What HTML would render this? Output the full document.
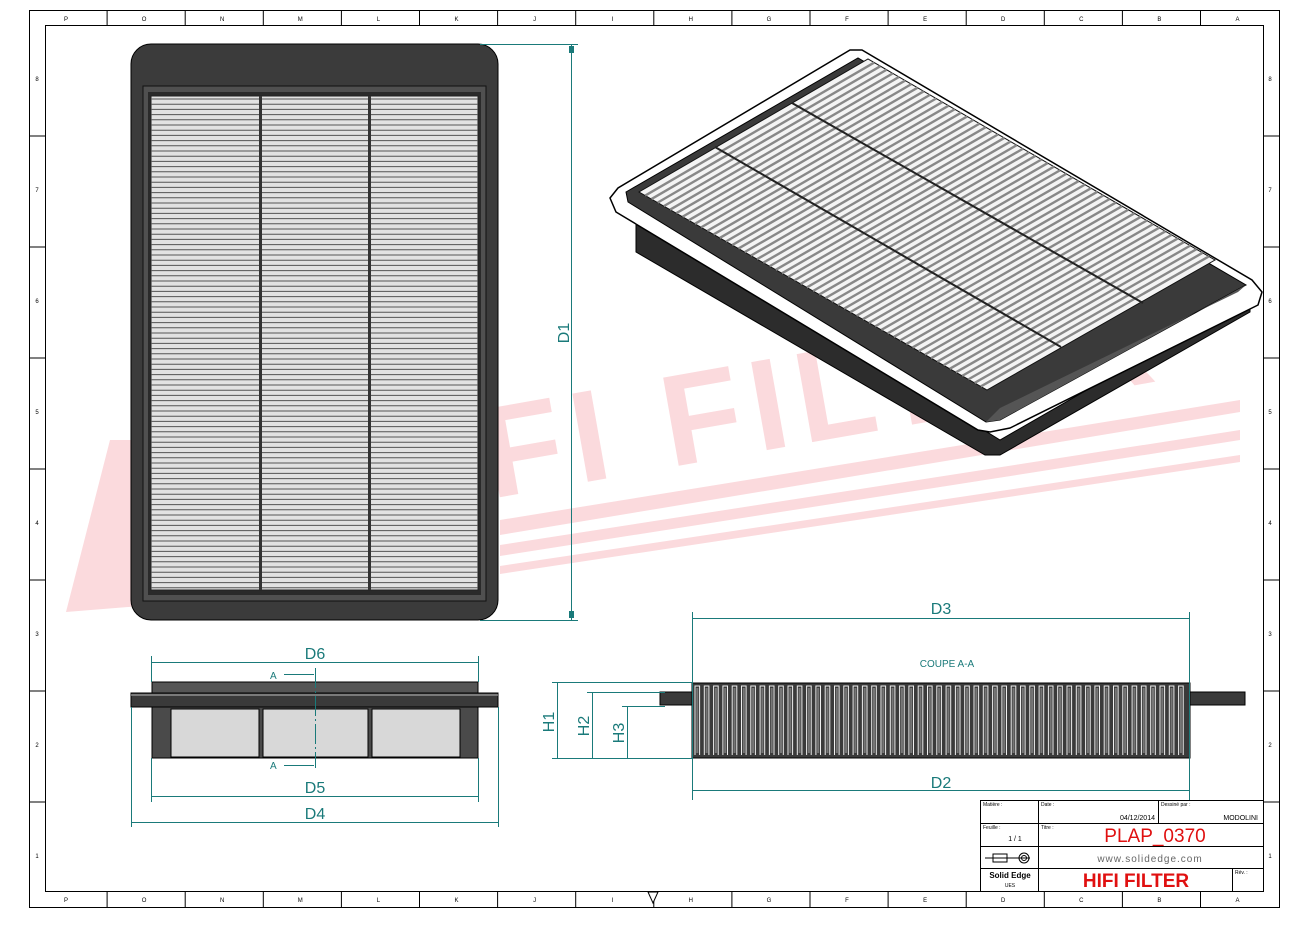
<!DOCTYPE html>
<html><head><meta charset="utf-8"><style>
html,body{margin:0;padding:0;background:#fff}
svg{display:block}
text{font-family:"Liberation Sans",sans-serif}
</style></head><body>
<svg id="s" width="1310" height="932" viewBox="0 0 1310 932" xmlns="http://www.w3.org/2000/svg">
<rect x="0" y="0" width="1310" height="932" fill="#fff"/>
<!-- watermark -->
<g fill="#fbdadd">
<text x="330" y="470" font-family="Liberation Serif" font-weight="bold" font-size="130" transform="rotate(-10 650 420) scale(1 1)" letter-spacing="10">HIFI FILTER</text>
<polygon points="500,520 1240,400 1240,412 500,535"/>
<polygon points="500,545 1240,430 1240,440 500,556"/>
<polygon points="500,566 1240,455 1240,462 500,574"/>
<polygon points="66,612 110,440 140,440 215,600"/>
</g>
<!-- border -->
<rect x="29.5" y="10.5" width="1250" height="897" fill="none" stroke="#000"/>
<rect x="45.5" y="25.5" width="1218" height="866" fill="none" stroke="#000"/>
<g id="ticks" stroke="#000"></g>
<g id="ticklbl" font-size="6" fill="#000"></g>

<!-- left top view -->
<rect x="131" y="44" width="367" height="576" rx="20" fill="#3b3b3b" stroke="#000"/>
<rect x="143" y="86" width="343" height="515" fill="#505050" stroke="#111"/>
<rect x="148" y="92" width="333" height="503" fill="#2a2a2a"/>
<rect x="151" y="96" width="327" height="494" fill="#e2e2e2" stroke="#222"/>
<g id="pl"></g>
<rect x="259" y="96" width="3" height="494" fill="#333"/>
<rect x="368" y="96" width="3" height="494" fill="#333"/>

<!-- D1 -->
<g stroke="#1a7a7a" fill="#1a7a7a">
<line x1="480" y1="44.5" x2="578" y2="44.5"/>
<line x1="480" y1="620.5" x2="578" y2="620.5"/>
<line x1="571.5" y1="44" x2="571.5" y2="620"/>
<rect x="569" y="46" width="5" height="7" stroke="none"/><rect x="569" y="611" width="5" height="7" stroke="none"/>
</g>
<text x="569" y="333" font-size="16" fill="#1a7a7a" transform="rotate(-90 569 333)" text-anchor="middle">D1</text>

<!-- isometric -->
<polygon points="636,215 636,252 985,455 1000,455 1250,312 1250,296 1000,440" fill="#2c2c2c" stroke="#000"/>
<polygon points="850,50 862,50 1252,280 1262,292 1258,305 1010,428 990,432 978,430 616,212 610,198 618,188" fill="#fff" stroke="#000" stroke-width="1.5"/>
<polygon points="626,192 858,58 1246,285 1000,420 986,422 628,202" fill="#3a3a3a" stroke="#000"/>
<polygon points="1246,285 1000,420 986,422 1000,408 1238,292" fill="#555"/>
<polygon points="639,192 868,59 1215,260 987,390" fill="#f4f4f4" stroke="#111"/>
<g id="iso"></g>

<!-- bottom left side view -->
<g stroke="#000">
<rect x="152" y="682" width="326" height="11" fill="#555"/>
<rect x="131" y="693" width="367" height="14" fill="#3a3a3a"/>
<line x1="131" y1="695" x2="498" y2="695" stroke="#bbb"/>
<rect x="152" y="707" width="326" height="51" fill="#4a4a4a"/>
<rect x="171" y="709" width="88" height="48" fill="#d8d8d8"/>
<rect x="263" y="709" width="105" height="48" fill="#d8d8d8"/>
<rect x="372" y="709" width="88" height="48" fill="#d8d8d8"/>
</g>
<g stroke="#1a7a7a" fill="#1a7a7a" font-size="16">
<line x1="151.5" y1="656" x2="151.5" y2="682"/><line x1="478.5" y1="656" x2="478.5" y2="682"/>
<line x1="151.5" y1="758" x2="151.5" y2="802"/><line x1="478.5" y1="758" x2="478.5" y2="802"/>
<line x1="131.5" y1="707" x2="131.5" y2="827"/><line x1="498.5" y1="707" x2="498.5" y2="827"/>
<line x1="152" y1="662.5" x2="478" y2="662.5"/>
<line x1="152" y1="796.5" x2="478" y2="796.5"/>
<line x1="132" y1="822.5" x2="498" y2="822.5"/>
<line x1="315.5" y1="668" x2="315.5" y2="768" stroke-dasharray="20 3 2 3"/>
<line x1="284" y1="674.5" x2="314" y2="674.5"/><line x1="284" y1="765.5" x2="314" y2="765.5"/>
<text x="315" y="659" stroke="none" text-anchor="middle">D6</text>
<text x="315" y="793" stroke="none" text-anchor="middle">D5</text>
<text x="315" y="819" stroke="none" text-anchor="middle">D4</text>
<text x="270" y="679" stroke="none" font-size="10">A</text>
<text x="270" y="769" stroke="none" font-size="10">A</text>
</g>

<!-- section -->
<g stroke="#000">
<polygon points="660,692 692,692 692,705 660,705" fill="#3a3a3a"/>
<polygon points="1190,692 1245,692 1245,705 1190,705" fill="#3a3a3a"/>
<rect x="692" y="683" width="498" height="75" fill="#3a3a3a"/>
</g>
<g id="sec"></g>
<g stroke="#1a7a7a" fill="#1a7a7a" font-size="16">
<line x1="692.5" y1="612" x2="692.5" y2="800"/><line x1="1189.5" y1="612" x2="1189.5" y2="800"/>
<line x1="693" y1="618.5" x2="1189" y2="618.5"/>
<line x1="693" y1="790.5" x2="1189" y2="790.5"/>
<line x1="552" y1="682.5" x2="692" y2="682.5"/>
<line x1="587" y1="692.5" x2="665" y2="692.5"/>
<line x1="622" y1="706.5" x2="665" y2="706.5"/>
<line x1="552" y1="758.5" x2="692" y2="758.5"/>
<line x1="557.5" y1="683" x2="557.5" y2="758"/>
<line x1="592.5" y1="693" x2="592.5" y2="758"/>
<line x1="627.5" y1="707" x2="627.5" y2="758"/>
<text x="941" y="614" stroke="none" text-anchor="middle">D3</text>
<text x="941" y="788" stroke="none" text-anchor="middle">D2</text>
<text x="947" y="667" stroke="none" font-size="10" text-anchor="middle">COUPE A-A</text>
<text x="554" y="722" stroke="none" transform="rotate(-90 554 722)" text-anchor="middle">H1</text>
<text x="589" y="726" stroke="none" transform="rotate(-90 589 726)" text-anchor="middle">H2</text>
<text x="624" y="733" stroke="none" transform="rotate(-90 624 733)" text-anchor="middle">H3</text>
</g>

<!-- title block -->
<g stroke="#000" fill="none">
<rect x="980.5" y="800.5" width="283" height="91" fill="#fff"/>
<line x1="980" y1="823.5" x2="1263" y2="823.5"/>
<line x1="980" y1="846.5" x2="1263" y2="846.5"/>
<line x1="980" y1="868.5" x2="1263" y2="868.5"/>
<line x1="1038.5" y1="800" x2="1038.5" y2="891"/>
<line x1="1158.5" y1="800" x2="1158.5" y2="823"/>
<line x1="1232.5" y1="868" x2="1232.5" y2="891"/>
<line x1="985" y1="858" x2="1030" y2="858"/>
<rect x="993" y="854" width="14" height="8"/>
<circle cx="1024" cy="858" r="5"/><circle cx="1024" cy="858" r="2.5"/>
</g>
<g font-size="5" fill="#000">
<text x="983" y="806">Matière :</text><text x="1041" y="806">Date :</text><text x="1161" y="806">Dessiné par :</text>
<text x="983" y="829">Feuille :</text><text x="1041" y="829">Titre :</text><text x="1235" y="874">Rév. :</text>
</g>
<text x="1155" y="820" font-size="7" text-anchor="end">04/12/2014</text>
<text x="1258" y="820" font-size="7" text-anchor="end">MODOLINI</text>
<text x="1015" y="841" font-size="7" text-anchor="middle">1 / 1</text>
<text x="1155" y="842" font-size="19" fill="#e01010" text-anchor="middle">PLAP_0370</text>
<text x="1150" y="862" font-size="10" fill="#666" text-anchor="middle" letter-spacing="1">www.solidedge.com</text>
<text x="1136" y="887" font-size="19" font-weight="bold" fill="#e01010" text-anchor="middle">HIFI FILTER</text>
<text x="1010" y="878" font-size="8" font-weight="bold" text-anchor="middle">Solid Edge</text>
<text x="1010" y="887" font-size="5" text-anchor="middle">UES</text>
<polygon points="648,892 658,892 653,903" fill="#fff" stroke="#000"/>
</svg>
<script>
var NS="http://www.w3.org/2000/svg";
function el(p,t,a){var e=document.createElementNS(NS,t);for(var k in a)e.setAttribute(k,a[k]);p.appendChild(e);return e;}
var tk=document.getElementById('ticks'),tl=document.getElementById('ticklbl');
var L="PONMLKJIHGFEDCBA".split("");
for(var i=0;i<=16;i++){var x=29+i*78.1;
 if(i>0&&i<16){el(tk,'line',{x1:x,y1:10,x2:x,y2:25});el(tk,'line',{x1:x,y1:891,x2:x,y2:907});}
 if(i<16){var t=el(tl,'text',{x:x+37,y:21,'text-anchor':'middle'});t.textContent=L[i];
 var t2=el(tl,'text',{x:x+37,y:902,'text-anchor':'middle'});t2.textContent=L[i];}}
for(var j=0;j<8;j++){var y=25+j*111;
 if(j>0){el(tk,'line',{x1:29,y1:y,x2:45,y2:y});el(tk,'line',{x1:1263,y1:y,x2:1279,y2:y});}
 var n=8-j;var a=el(tl,'text',{x:37,y:y+56,'text-anchor':'middle'});a.textContent=n;
 var b=el(tl,'text',{x:1270,y:y+56,'text-anchor':'middle'});b.textContent=n;}
var pl=document.getElementById('pl');
for(var y=99;y<590;y+=5.2)el(pl,'line',{x1:151,y1:y,x2:478,y2:y,stroke:'#555','stroke-width':1});
var iso=document.getElementById('iso');
var T=[868,59],R=[1215,260],Lp=[639,192],B=[987,390];
function lp(a,b,t){return [a[0]+(b[0]-a[0])*t,a[1]+(b[1]-a[1])*t];}
for(var k=1;k<56;k++){var t=k/56;var p1=lp(Lp,B,t),p2=lp(T,R,t);
 el(iso,'line',{x1:p1[0],y1:p1[1],x2:p2[0],y2:p2[1],stroke:'#888','stroke-width':2.4});}
el(iso,'line',{x1:715,y1:147,x2:1061,y2:347,stroke:'#222','stroke-width':2});
el(iso,'line',{x1:792,y1:103,x2:1143,y2:303,stroke:'#222','stroke-width':2});
var sec=document.getElementById('sec');
for(var x=695;x<1186;x+=9.3){
 el(sec,'path',{d:'M'+x+' 755 V686 H'+(x+4.6)+' V755',stroke:'#eee','stroke-width':1,fill:'none'});
 el(sec,'line',{x1:x+2.3,y1:688,x2:x+2.3,y2:753,stroke:'#777','stroke-width':2});}
</script>
</body></html>
